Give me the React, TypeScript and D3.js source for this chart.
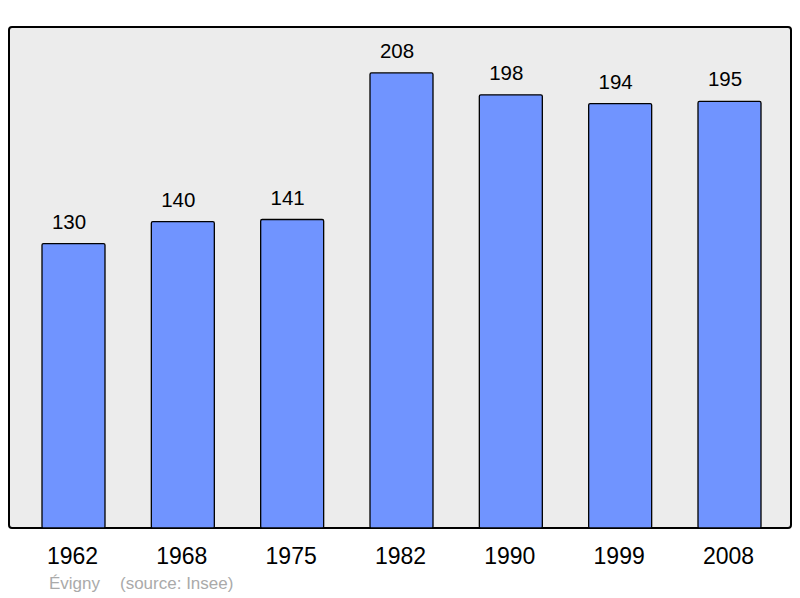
import React from 'react';
import * as d3 from 'd3';

const years = ['1962', '1968', '1975', '1982', '1990', '1999', '2008'];
const population = [130, 140, 141, 208, 198, 194, 195];
const commune = 'Évigny';
const source = '(source: Insee)';

const W = 800;
const H = 598;
const panel = { left: 9, top: 27, right: 791, bottom: 528 };

export default function App() {
  const x = d3.scaleBand<string>()
    .domain(years)
    .range([9.2, 793.8])
    .paddingInner(0.4238)
    .paddingOuter(0.3);

  const y = d3.scaleLinear()
    .domain([0, 229])
    .range([panel.bottom, panel.top]);

  return (
    <svg
      width={W}
      height={H}
      style={{ position: 'absolute', left: 0, top: 0, fontFamily: '"Liberation Sans", Arial, sans-serif' }}
    >
      <rect
        x={panel.left}
        y={panel.top}
        width={panel.right - panel.left}
        height={panel.bottom - panel.top}
        rx={3}
        fill="#ececec"
        stroke="#000"
        strokeWidth={2}
      />
      {years.map((yr, i) => {
        const v = population[i];
        const bx = x(yr) ?? 0;
        const cx = bx + x.bandwidth() / 2;
        return (
          <g key={yr}>
            <rect
              x={bx}
              y={y(v)}
              width={x.bandwidth()}
              height={y(0) - y(v)}
              rx={1.5}
              fill="#7094ff"
              stroke="#000"
              strokeWidth={1.3}
            />
            {/* value labels sit a little left of the bar centre, as in the original */}
            <text x={cx - 4.5} y={y(v) - 15} textAnchor="middle" fontSize={20.5} fill="#000">
              {v}
            </text>
            <text x={cx - 1} y={564} textAnchor="middle" fontSize={23} fill="#000">
              {yr}
            </text>
          </g>
        );
      })}
      <text x={49} y={589} fontSize={17} fill="#aaaaaa">{commune}</text>
      <text x={120} y={589} fontSize={17} fill="#aaaaaa">{source}</text>
    </svg>
  );
}
